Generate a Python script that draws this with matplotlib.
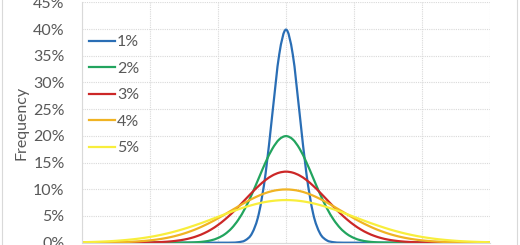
import matplotlib
matplotlib.use('Agg')
import matplotlib.pyplot as plt
from matplotlib.lines import Line2D
from matplotlib.path import Path
from matplotlib.patches import PathPatch
from matplotlib.ticker import MultipleLocator, FuncFormatter

plt.rcParams['font.family'] = ['Lato', 'DejaVu Sans']

# x positions in percent, -15% .. 15%
x_pct = [-15, -14.5, -14, -13.5, -13, -12.5, -12, -11.5, -11, -10.5,
         -10, -9.5, -9, -8.5, -8, -7.5, -7, -6.5, -6, -5.5,
         -5, -4.5, -4, -3.5, -3, -2.5, -2, -1.5, -1, -0.5,
         0,
         0.5, 1, 1.5, 2, 2.5, 3, 3.5, 4, 4.5, 5,
         5.5, 6, 6.5, 7, 7.5, 8, 8.5, 9, 9.5, 10,
         10.5, 11, 11.5, 12, 12.5, 13, 13.5, 14, 14.5, 15]

# frequency in percent for each series
freq_1 = [0, 0, 0, 0, 0, 0, 0, 0, 0, 0,
          0, 0, 0, 0, 0, 0, 0, 0, 0, 0,
          0, 0, 0.01, 0.09, 0.44, 1.75, 5.40, 12.95, 24.20, 35.21,
          39.89,
          35.21, 24.20, 12.95, 5.40, 1.75, 0.44, 0.09, 0.01, 0, 0,
          0, 0, 0, 0, 0, 0, 0, 0, 0, 0,
          0, 0, 0, 0, 0, 0, 0, 0, 0, 0]
freq_2 = [0, 0, 0, 0, 0, 0, 0, 0, 0, 0,
          0, 0, 0, 0, 0.01, 0.02, 0.04, 0.10, 0.22, 0.45,
          0.88, 1.59, 2.70, 4.32, 6.48, 9.13, 12.10, 15.06, 17.60, 19.33,
          19.95,
          19.33, 17.60, 15.06, 12.10, 9.13, 6.48, 4.32, 2.70, 1.59, 0.88,
          0.45, 0.22, 0.10, 0.04, 0.02, 0.01, 0, 0, 0, 0,
          0, 0, 0, 0, 0, 0, 0, 0, 0, 0]
freq_3 = [0, 0, 0, 0, 0, 0, 0, 0.01, 0.02, 0.03,
          0.05, 0.09, 0.15, 0.24, 0.38, 0.58, 0.87, 1.27, 1.80, 2.48,
          3.32, 4.32, 5.47, 6.73, 8.07, 9.40, 10.65, 11.74, 12.58, 13.11,
          13.30,
          13.11, 12.58, 11.74, 10.65, 9.40, 8.07, 6.73, 5.47, 4.32, 3.32,
          2.48, 1.80, 1.27, 0.87, 0.58, 0.38, 0.24, 0.15, 0.09, 0.05,
          0.03, 0.02, 0.01, 0, 0, 0, 0, 0, 0, 0]
freq_4 = [0.01, 0.01, 0.02, 0.03, 0.05, 0.08, 0.11, 0.16, 0.23, 0.32,
          0.44, 0.59, 0.79, 1.04, 1.35, 1.72, 2.16, 2.66, 3.24, 3.87,
          4.56, 5.30, 6.05, 6.80, 7.53, 8.20, 8.80, 9.30, 9.67, 9.89,
          9.97,
          9.89, 9.67, 9.30, 8.80, 8.20, 7.53, 6.80, 6.05, 5.30, 4.56,
          3.87, 3.24, 2.66, 2.16, 1.72, 1.35, 1.04, 0.79, 0.59, 0.44,
          0.32, 0.23, 0.16, 0.11, 0.08, 0.05, 0.03, 0.02, 0.01, 0.01]
freq_5 = [0.09, 0.12, 0.16, 0.21, 0.27, 0.35, 0.45, 0.57, 0.71, 0.88,
          1.08, 1.31, 1.58, 1.88, 2.22, 2.59, 3.00, 3.43, 3.88, 4.36,
          4.84, 5.32, 5.79, 6.25, 6.67, 7.04, 7.37, 7.63, 7.82, 7.94,
          7.98,
          7.94, 7.82, 7.63, 7.37, 7.04, 6.67, 6.25, 5.79, 5.32, 4.84,
          4.36, 3.88, 3.43, 3.00, 2.59, 2.22, 1.88, 1.58, 1.31, 1.08,
          0.88, 0.71, 0.57, 0.45, 0.35, 0.27, 0.21, 0.16, 0.12, 0.09]

labels = ['1%', '2%', '3%', '4%', '5%']
colors = ['#2A6EB5', '#22A45E', '#CC2727', '#F0B323', '#F8EE3C']


def smooth_path(xs, ys):
    # Excel style smoothed line: bezier segments through the points
    verts = [(xs[0], ys[0])]
    codes = [Path.MOVETO]
    n = len(xs)
    for i in range(n - 1):
        x0, y0 = (xs[i - 1], ys[i - 1]) if i > 0 else (xs[i], ys[i])
        x1, y1 = xs[i], ys[i]
        x2, y2 = xs[i + 1], ys[i + 1]
        x3, y3 = (xs[i + 2], ys[i + 2]) if i + 2 < n else (x2, y2)
        verts += [(x1 + (x2 - x0) / 6, y1 + (y2 - y0) / 6),
                  (x2 - (x3 - x1) / 6, y2 - (y3 - y1) / 6),
                  (x2, y2)]
        codes += [Path.CURVE4] * 3
    return Path(verts, codes)


fig = plt.figure(figsize=(5.2, 2.45), dpi=100)
ax = fig.add_axes([82 / 520, 2.3 / 245, 408 / 520, 240.4 / 245])

handles = []
for ys, lab, col in zip([freq_1, freq_2, freq_3, freq_4, freq_5], labels, colors):
    ax.add_patch(PathPatch(smooth_path(x_pct, ys), facecolor='none',
                           edgecolor=col, lw=1.6, capstyle='round'))
    handles.append(Line2D([], [], color=col, lw=1.6, label=lab))

ax.set_xlim(-15, 15)
ax.set_ylim(0, 45)
ax.xaxis.set_major_locator(MultipleLocator(5))
ax.yaxis.set_major_locator(MultipleLocator(5))
ax.yaxis.set_major_formatter(FuncFormatter(lambda v, p: '%d%%' % v))
ax.set_xticklabels([])
ax.tick_params(axis='both', length=0)
ax.tick_params(axis='y', pad=12.5, labelsize=11.5, labelcolor='#595959')
ax.grid(True, color='#D9D9D9', lw=0.8, linestyle=(0, (1, 1)))
ax.set_axisbelow(True)
for side in ['top', 'right']:
    ax.spines[side].set_visible(False)
for side in ['left', 'bottom']:
    ax.spines[side].set_color('#D9D9D9')

fig.text(22 / 520, 1 - 123 / 245, 'Frequency', rotation=90, ha='center',
         va='center', fontsize=11.5, color='#595959')

ax.legend(handles=handles, loc='upper left',
          bbox_to_anchor=(89 / 520, 1 - 35 / 245),
          bbox_transform=fig.transFigure, frameon=False, fontsize=11.5,
          handlelength=1.6, handletextpad=0.15, labelspacing=0.77,
          borderpad=0, borderaxespad=0, labelcolor='#595959')

# chart area border
fig.add_artist(Line2D([1.5 / 520, 1.5 / 520], [0, 1], color='#D9D9D9', lw=0.8))
fig.add_artist(Line2D([517 / 520, 517 / 520], [0, 1], color='#D9D9D9', lw=0.8))

fig.savefig('out.png', dpi=100)
